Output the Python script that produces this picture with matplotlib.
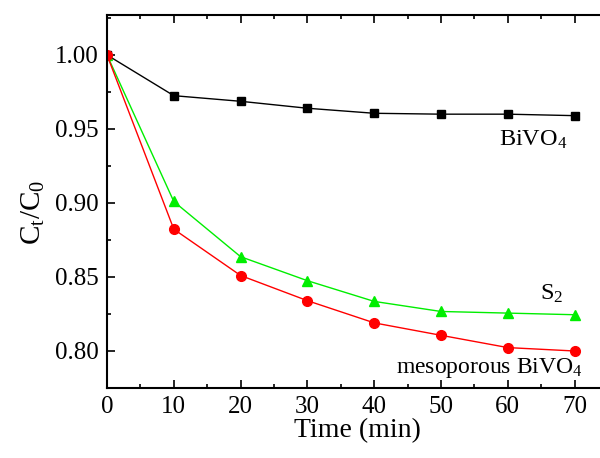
import matplotlib
matplotlib.use("Agg")
import matplotlib.pyplot as plt
from matplotlib.ticker import MultipleLocator, FormatStrFormatter

plt.rcParams["font.family"] = "serif"
plt.rcParams["font.serif"] = ["Liberation Serif", "DejaVu Serif"]
plt.rcParams["mathtext.fontset"] = "custom"
plt.rcParams["mathtext.rm"] = "Liberation Serif"
plt.rcParams["mathtext.it"] = "Liberation Serif:italic"
plt.rcParams["mathtext.default"] = "rm"

time_min = [0, 10, 20, 30, 40, 50, 60, 70]
bivo4 = [1.000, 0.9725, 0.9687, 0.964, 0.9606, 0.960, 0.960, 0.959]
s2 = [1.000, 0.901, 0.8637, 0.8475, 0.8335, 0.8267, 0.8256, 0.8245]
meso = [1.000, 0.8823, 0.851, 0.834, 0.819, 0.8106, 0.8023, 0.800]

fig = plt.figure(figsize=(6.0, 4.58), dpi=100)
# axes box: left 107px, top 15px, bottom 388px; right spine lies past the crop
ax = fig.add_axes([107 / 600, 1 - 388 / 458, 501 / 600, 373 / 458])

ax.plot(time_min, bivo4, color="black", marker="s", markersize=6, linewidth=1)
ax.plot(time_min, s2, color="#00ee00", marker="^", markersize=7.5, linewidth=1)
ax.plot(time_min, meso, color="#ff0000", marker="o", markersize=7, linewidth=1)

ax.set_xlim(0, 75)
ax.set_ylim(0.775, 1.027)
ax.xaxis.set_major_locator(MultipleLocator(10))
ax.xaxis.set_minor_locator(MultipleLocator(5))
ax.yaxis.set_major_locator(MultipleLocator(0.05))
ax.yaxis.set_minor_locator(MultipleLocator(0.025))
ax.yaxis.set_major_formatter(FormatStrFormatter("%.2f"))
ax.tick_params(which="both", direction="in", top=True, right=True,
               labelsize=18, width=1.2, pad=6)
ax.tick_params(which="major", length=6)
ax.tick_params(which="minor", length=3)
for s in ax.spines.values():
    s.set_linewidth(1.5)

ax.set_xlabel("Time (min)", fontsize=20, labelpad=0)
ax.set_ylabel("C$_t$/C$_0$", fontsize=21)
ax.yaxis.set_label_coords(-0.12, 0.47)

ax.text(58.7, 0.9385, "BiVO$_4$", fontsize=17.5, ha="left", va="baseline")
ax.text(64.8, 0.8344, "S$_2$", fontsize=17.5, ha="left", va="baseline")
ax.text(43.3, 0.785, "mesoporous BiVO$_4$", fontsize=17, ha="left", va="baseline")

fig.savefig("out.png", dpi=100)
